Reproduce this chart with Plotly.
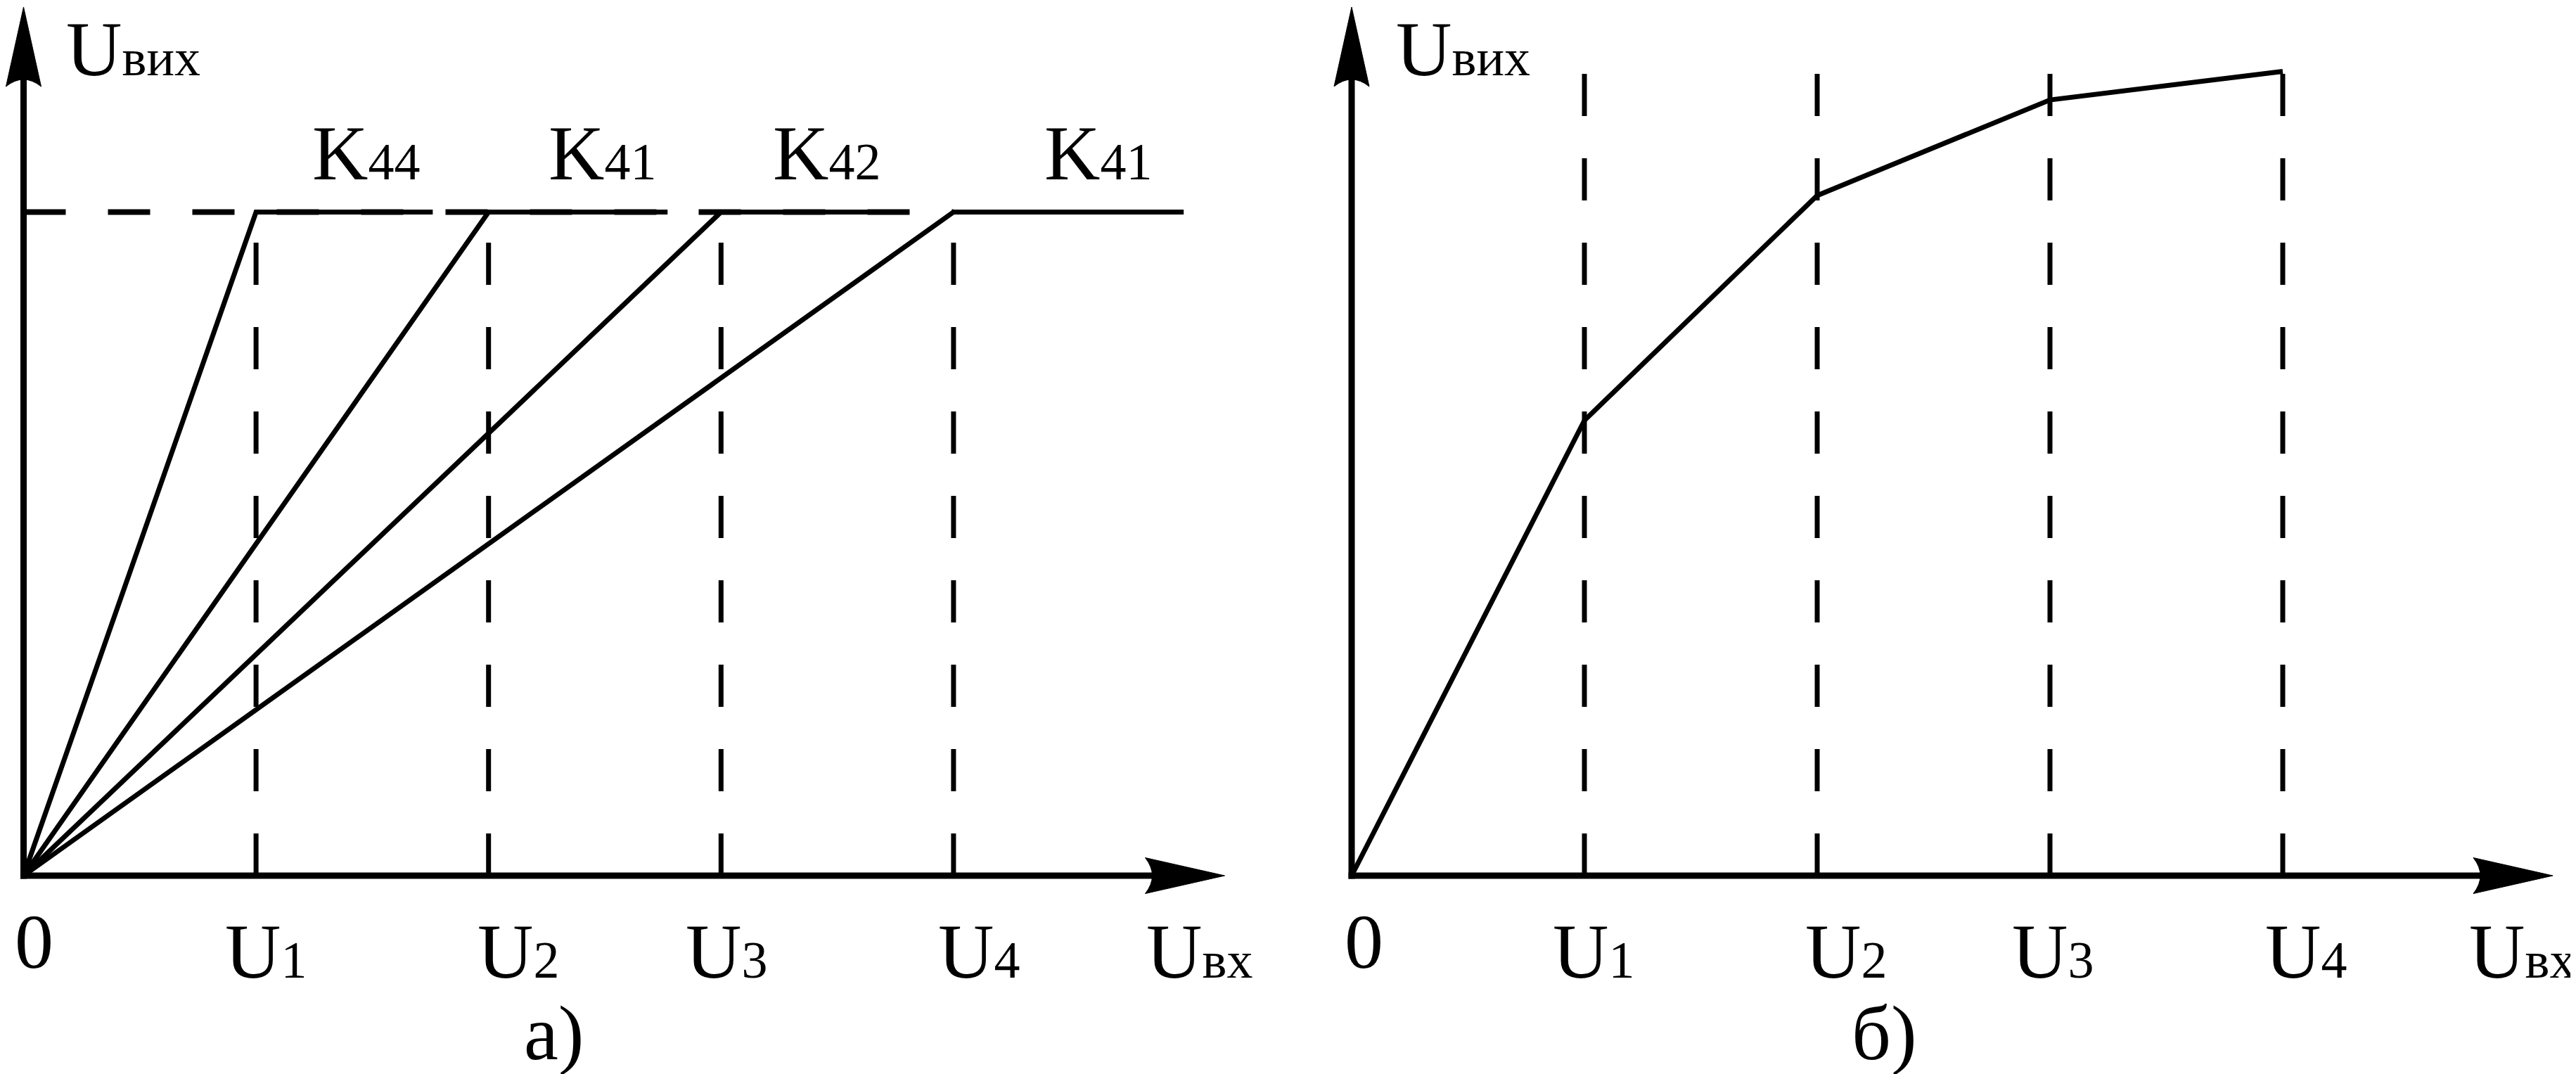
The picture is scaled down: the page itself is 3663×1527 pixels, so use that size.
import plotly.graph_objects as go

W, H = 3663, 1527

# ---------------- data ----------------
u_ticks = [1, 2, 3, 4]                      # U1..U4 on the input axis
u_subs = ["1", "2", "3", "4"]
gain_subs = ["44", "41", "42", "41"]        # K labels of panel a)
sat_level = 1.0                             # common saturation level (panel a)
sat_ends = [1.76, 2.77, 3.80, 4.99]         # end of each horizontal (saturated) segment
curve_x = [0, 1, 2, 3, 4]                   # panel б) resulting characteristic
curve_y = [0.0, 0.686, 1.025, 1.169, 1.212]

# ---------------- geometry (pixels) ----------------
O1X, O2X, OY = 25.5, 1914.0, 1237.0         # origins of the two panels
SX1, SX2, SY = 330.6, 331.0, 943.5          # pixels per unit
FONT = "Liberation Serif, Times New Roman, Times, serif"
F_MAIN, F_SUB = 110, 74

def xr1(px):
    return (px - O1X) / SX1

def xr2(px):
    return (px - O2X) / SX2

def yr(py):
    return (OY - py) / SY

fig = go.Figure()

LW = 7
DASH = "60px,60px"

# ----- panel a) -----
for u in u_ticks:
    fig.add_trace(go.Scatter(x=[u, u], y=[0, sat_level], mode="lines",
                             line=dict(color="black", width=LW, dash=DASH),
                             xaxis="x", yaxis="y", hoverinfo="skip"))
fig.add_trace(go.Scatter(x=[0, u_ticks[-1]], y=[sat_level, sat_level], mode="lines",
                         line=dict(color="black", width=8, dash=DASH),
                         xaxis="x", yaxis="y", hoverinfo="skip"))
for u, e in zip(u_ticks, sat_ends):
    fig.add_trace(go.Scatter(x=[0, u, e], y=[0, sat_level, sat_level], mode="lines",
                             line=dict(color="black", width=LW),
                             xaxis="x", yaxis="y", hoverinfo="skip"))

# ----- panel б) -----
top = max(curve_y)
for u in u_ticks:
    fig.add_trace(go.Scatter(x=[u, u], y=[0, top], mode="lines",
                             line=dict(color="black", width=LW, dash=DASH),
                             xaxis="x2", yaxis="y2", hoverinfo="skip"))
fig.add_trace(go.Scatter(x=curve_x, y=curve_y, mode="lines",
                         line=dict(color="black", width=LW),
                         xaxis="x2", yaxis="y2", hoverinfo="skip"))

# ----- axes with arrows (shapes) -----
shapes = []
def axes_shapes(xr, xref, yref, ox):
    shapes.append(dict(type="line", xref=xref, yref=yref, x0=xr(ox - 4.5), y0=0,
                       x1=xr(ox + 1610), y1=0, line=dict(color="black", width=9), layer="above"))
    shapes.append(dict(type="line", xref=xref, yref=yref, x0=0, y0=yr(OY + 4.5),
                       x1=0, y1=yr(105), line=dict(color="black", width=9), layer="above"))
    tip = ox + 1708
    p = (f"M{xr(tip)},{yr(OY)} L{xr(tip-113)},{yr(OY-25.5)} "
         f"Q{xr(tip-93)},{yr(OY)} {xr(tip-113)},{yr(OY+25.5)} Z")
    shapes.append(dict(type="path", xref=xref, yref=yref, path=p,
                       fillcolor="black", line=dict(color="black", width=1), layer="above"))
    p = (f"M{xr(ox)},{yr(2)} L{xr(ox-25)},{yr(115)} "
         f"Q{xr(ox)},{yr(95)} {xr(ox+25)},{yr(115)} Z")
    shapes.append(dict(type="path", xref=xref, yref=yref, path=p,
                       fillcolor="black", line=dict(color="black", width=1), layer="above"))

axes_shapes(xr1, "x", "y", O1X)
axes_shapes(xr2, "x2", "y2", O2X)

# ----- text -----
annotations = []
def sub(s):
    return f"<span style='font-size:{F_SUB}px'>{s}</span>"

def txt(text, cx, baseline):
    annotations.append(dict(text=text, xref="paper", yref="paper",
                            x=cx / W, y=1 - (baseline + 0.216 * F_MAIN) / H,
                            xanchor="center", yanchor="bottom", showarrow=False,
                            borderpad=0, borderwidth=0,
                            font=dict(family=FONT, size=F_MAIN, color="black")))

# panel a)
txt("U" + sub("вих"), 181, 99)
for cx, g in zip([512, 848, 1167, 1553], gain_subs):
    txt("K" + sub(g), cx, 247)
txt("0", 40, 1368)
for cx, s in zip([370, 729, 1025, 1384], u_subs):
    txt("U" + sub(s), cx, 1382)
txt("U" + sub("вх"), 1697, 1382)
txt("а)", 779, 1498)

# panel б)
txt("U" + sub("вих"), 2072, 99)
txt("0", 1931, 1368)
for cx, s in zip([2258, 2617, 2911, 3271], u_subs):
    txt("U" + sub(s), cx, 1382)
txt("U" + sub("вх"), 3578, 1382)
txt("б)", 2671, 1498)

ax_common = dict(visible=False, showgrid=False, zeroline=False, fixedrange=True)
fig.update_layout(
    width=W, height=H, margin=dict(l=0, r=0, t=0, b=0),
    paper_bgcolor="white", plot_bgcolor="white", showlegend=False,
    font=dict(family=FONT),
    xaxis=dict(domain=[0, 0.5], range=[xr1(0), xr1(W / 2)], anchor="y", **ax_common),
    yaxis=dict(domain=[0, 1], range=[yr(H), yr(0)], anchor="x", **ax_common),
    xaxis2=dict(domain=[0.5, 1], range=[xr2(W / 2), xr2(W)], anchor="y2", **ax_common),
    yaxis2=dict(domain=[0, 1], range=[yr(H), yr(0)], anchor="x2", **ax_common),
    shapes=shapes, annotations=annotations,
)

fig.write_html("out.html")
